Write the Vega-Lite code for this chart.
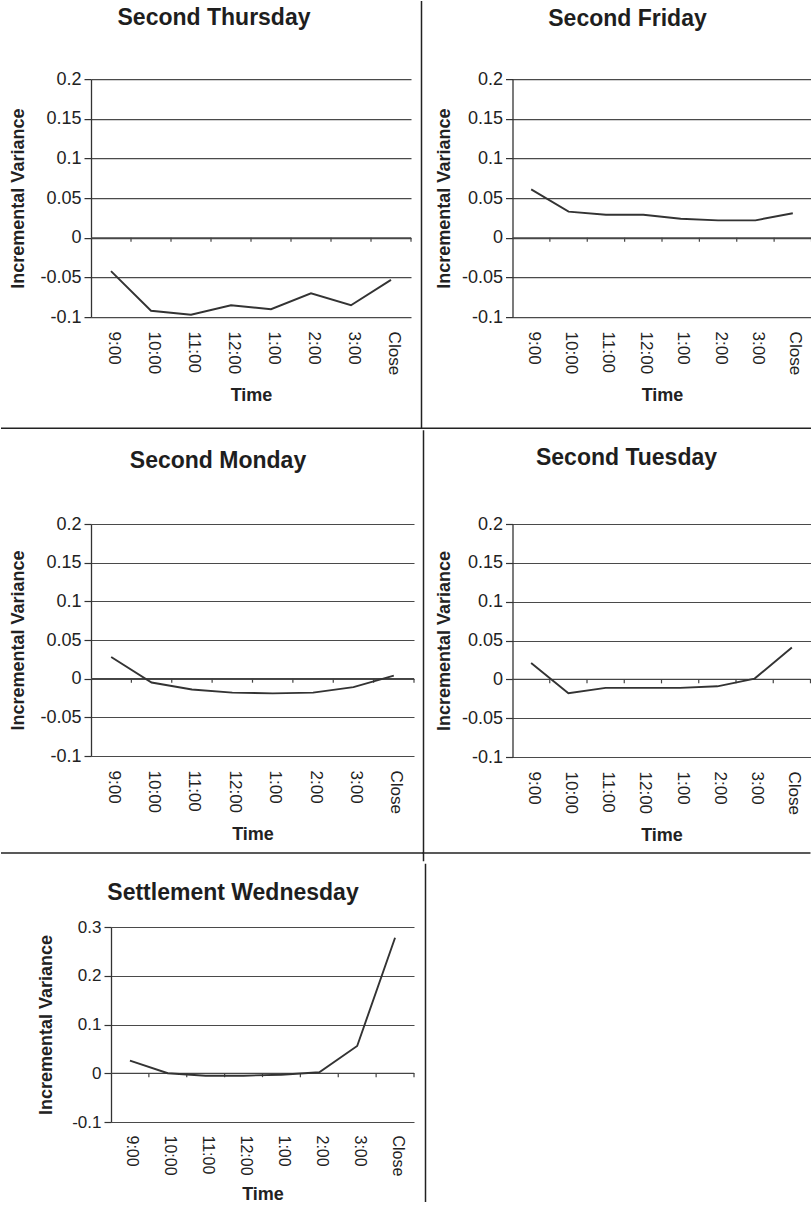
{
  "$schema": "https://vega.github.io/schema/vega-lite/v6.json",
  "padding": 0,
  "background": "white",
  "spacing": {"row": 0, "column": -26.5},
  "columns": 2,
  "center": true,
  "datasets": {
    "series": [
      {"day": "Second Thursday", "i": 0, "time": "9:00", "v": -0.042},
      {"day": "Second Thursday", "i": 1, "time": "10:00", "v": -0.092},
      {"day": "Second Thursday", "i": 2, "time": "11:00", "v": -0.097},
      {"day": "Second Thursday", "i": 3, "time": "12:00", "v": -0.085},
      {"day": "Second Thursday", "i": 4, "time": "1:00", "v": -0.090},
      {"day": "Second Thursday", "i": 5, "time": "2:00", "v": -0.070},
      {"day": "Second Thursday", "i": 6, "time": "3:00", "v": -0.085},
      {"day": "Second Thursday", "i": 7, "time": "Close", "v": -0.053},
      {"day": "Second Friday", "i": 0, "time": "9:00", "v": 0.061},
      {"day": "Second Friday", "i": 1, "time": "10:00", "v": 0.033},
      {"day": "Second Friday", "i": 2, "time": "11:00", "v": 0.029},
      {"day": "Second Friday", "i": 3, "time": "12:00", "v": 0.029},
      {"day": "Second Friday", "i": 4, "time": "1:00", "v": 0.024},
      {"day": "Second Friday", "i": 5, "time": "2:00", "v": 0.022},
      {"day": "Second Friday", "i": 6, "time": "3:00", "v": 0.022},
      {"day": "Second Friday", "i": 7, "time": "Close", "v": 0.031},
      {"day": "Second Monday", "i": 0, "time": "9:00", "v": 0.028},
      {"day": "Second Monday", "i": 1, "time": "10:00", "v": -0.005},
      {"day": "Second Monday", "i": 2, "time": "11:00", "v": -0.014},
      {"day": "Second Monday", "i": 3, "time": "12:00", "v": -0.018},
      {"day": "Second Monday", "i": 4, "time": "1:00", "v": -0.019},
      {"day": "Second Monday", "i": 5, "time": "2:00", "v": -0.018},
      {"day": "Second Monday", "i": 6, "time": "3:00", "v": -0.011},
      {"day": "Second Monday", "i": 7, "time": "Close", "v": 0.004},
      {"day": "Second Tuesday", "i": 0, "time": "9:00", "v": 0.021},
      {"day": "Second Tuesday", "i": 1, "time": "10:00", "v": -0.018},
      {"day": "Second Tuesday", "i": 2, "time": "11:00", "v": -0.011},
      {"day": "Second Tuesday", "i": 3, "time": "12:00", "v": -0.011},
      {"day": "Second Tuesday", "i": 4, "time": "1:00", "v": -0.011},
      {"day": "Second Tuesday", "i": 5, "time": "2:00", "v": -0.009},
      {"day": "Second Tuesday", "i": 6, "time": "3:00", "v": 0.001},
      {"day": "Second Tuesday", "i": 7, "time": "Close", "v": 0.041},
      {"day": "Settlement Wednesday", "i": 0, "time": "9:00", "v": 0.026},
      {"day": "Settlement Wednesday", "i": 1, "time": "10:00", "v": 0.000},
      {"day": "Settlement Wednesday", "i": 2, "time": "11:00", "v": -0.005},
      {"day": "Settlement Wednesday", "i": 3, "time": "12:00", "v": -0.005},
      {"day": "Settlement Wednesday", "i": 4, "time": "1:00", "v": -0.003},
      {"day": "Settlement Wednesday", "i": 5, "time": "2:00", "v": 0.002},
      {"day": "Settlement Wednesday", "i": 6, "time": "3:00", "v": 0.056},
      {"day": "Settlement Wednesday", "i": 7, "time": "Close", "v": 0.278}
    ],
    "ticksAt": [
      {"b": 0.5}, {"b": 1.5}, {"b": 2.5}, {"b": 3.5}, {"b": 4.5}, {"b": 5.5}, {"b": 6.5}, {"b": 7.5}
    ]
  },
  "concat": [
    {
      "width": 320, "height": 238,
      "title": {"text": "Second Thursday", "offset": -30, "dx": -37},
      "layer": [
        {"data": {"values": [{}]}, "mark": {"type": "rect", "opacity": 0},
         "encoding": {
           "x": {"datum": -2.75, "type": "quantitative", "scale": {"domain": [-0.5, 7.5], "nice": false, "zero": false},
                 "axis": {"values": [0, 1, 2, 3, 4, 5, 6, 7], "labelExpr": "['9:00','10:00','11:00','12:00','1:00','2:00','3:00','Close'][datum.value]", "labelAngle": 90, "labelAlign": "left", "labelBaseline": "middle", "labelPadding": 14, "labelFontSize": 17, "labelOffset": 2, "labelFlush": false, "labelOverlap": false, "ticks": false, "tickSize": 0, "domain": false, "grid": false, "title": "Time", "titleFontSize": 18, "titleFontWeight": "bold", "titlePadding": 12}},
           "x2": {"datum": 8.4},
           "y": {"datum": 0.29832, "type": "quantitative", "scale": {"domain": [-0.1, 0.2], "nice": false, "zero": false},
                 "axis": {"values": [-0.1, -0.05, 0, 0.05, 0.1, 0.15, 0.2], "tickCount": 7, "labelOverlap": false, "labelExpr": "'' + datum.value", "labelFontSize": 18, "labelPadding": 3, "tickSize": 7, "tickColor": "#333", "tickWidth": 1.2, "domainColor": "#333", "domainWidth": 1.3, "grid": true, "gridColor": "#4a4a4a", "gridWidth": 1.1, "title": "Incremental Variance", "titleFontSize": 18, "titleFontWeight": "bold", "titlePadding": 12}},
           "y2": {"datum": -0.23992}}},
        {"data": {"values": [{}]}, "mark": {"type": "rule", "color": "#222", "strokeWidth": 1.5},
         "encoding": {"x": {"datum": 7.7625, "type": "quantitative"}, "y": {"datum": 0.29832, "type": "quantitative"}, "y2": {"datum": -0.23992}}},
        {"data": {"values": [{}]}, "mark": {"type": "rule", "color": "#222", "strokeWidth": 1.5},
         "encoding": {"x": {"datum": -2.75, "type": "quantitative"}, "x2": {"datum": 7.775}, "y": {"datum": -0.23992, "type": "quantitative"}}},
        {"data": {"values": [{}]}, "mark": {"type": "rule", "color": "#444", "strokeWidth": 1.2},
         "encoding": {"x": {"datum": -0.5, "type": "quantitative"}, "x2": {"datum": 7.5}, "y": {"datum": 0, "type": "quantitative"}}},
        {"data": {"name": "ticksAt"}, "mark": {"type": "rule", "color": "#444", "strokeWidth": 1.2},
         "encoding": {"x": {"field": "b", "type": "quantitative"}, "y": {"datum": 0, "type": "quantitative"}, "y2": {"datum": -0.005}}},
        {"data": {"name": "series"}, "transform": [{"filter": "datum.day === 'Second Thursday'"}],
         "mark": {"type": "line", "color": "#333", "strokeWidth": 1.9},
         "encoding": {"x": {"field": "i", "type": "quantitative"}, "y": {"field": "v", "type": "quantitative"}}}
      ]
    },
    {
      "width": 299, "height": 238,
      "title": {"text": "Second Friday", "offset": -30, "dx": -34.5},
      "layer": [
        {"data": {"values": [{}]}, "mark": {"type": "rect", "opacity": 0},
         "encoding": {
           "x": {"datum": -2.9348, "type": "quantitative", "scale": {"domain": [-0.5, 7.5], "nice": false, "zero": false},
                 "axis": {"values": [0, 1, 2, 3, 4, 5, 6, 7], "labelExpr": "['9:00','10:00','11:00','12:00','1:00','2:00','3:00','Close'][datum.value]", "labelAngle": 90, "labelAlign": "left", "labelBaseline": "middle", "labelPadding": 14, "labelFontSize": 17, "labelOffset": 2, "labelFlush": false, "labelOverlap": false, "ticks": false, "tickSize": 0, "domain": false, "grid": false, "title": "Time", "titleFontSize": 18, "titleFontWeight": "bold", "titlePadding": 12}},
           "x2": {"datum": 7.5},
           "y": {"datum": 0.29832, "type": "quantitative", "scale": {"domain": [-0.1, 0.2], "nice": false, "zero": false},
                 "axis": {"values": [-0.1, -0.05, 0, 0.05, 0.1, 0.15, 0.2], "tickCount": 7, "labelOverlap": false, "labelExpr": "'' + datum.value", "labelFontSize": 18, "labelPadding": 3, "tickSize": 7, "tickColor": "#333", "tickWidth": 1.2, "domainColor": "#333", "domainWidth": 1.3, "grid": true, "gridColor": "#4a4a4a", "gridWidth": 1.1, "title": "Incremental Variance", "titleFontSize": 18, "titleFontWeight": "bold", "titlePadding": 8}},
           "y2": {"datum": -0.23992}}},
        {"data": {"values": [{}]}, "mark": {"type": "rule", "color": "#222", "strokeWidth": 1.5},
         "encoding": {"x": {"datum": -2.9348, "type": "quantitative"}, "x2": {"datum": 7.5}, "y": {"datum": -0.23992, "type": "quantitative"}}},
        {"data": {"values": [{}]}, "mark": {"type": "rule", "color": "#444", "strokeWidth": 1.2},
         "encoding": {"x": {"datum": -0.5, "type": "quantitative"}, "x2": {"datum": 7.5}, "y": {"datum": 0, "type": "quantitative"}}},
        {"data": {"name": "ticksAt"}, "mark": {"type": "rule", "color": "#444", "strokeWidth": 1.2},
         "encoding": {"x": {"field": "b", "type": "quantitative"}, "y": {"datum": 0, "type": "quantitative"}, "y2": {"datum": -0.005}}},
        {"data": {"name": "series"}, "transform": [{"filter": "datum.day === 'Second Friday'"}],
         "mark": {"type": "line", "color": "#333", "strokeWidth": 1.9},
         "encoding": {"x": {"field": "i", "type": "quantitative"}, "y": {"field": "v", "type": "quantitative"}}}
      ]
    },
    {
      "width": 323, "height": 232,
      "title": {"text": "Second Monday", "offset": -43.5, "dx": -34.5},
      "layer": [
        {"data": {"values": [{}]}, "mark": {"type": "rect", "opacity": 0},
         "encoding": {
           "x": {"datum": -2.7291, "type": "quantitative", "scale": {"domain": [-0.5, 7.5], "nice": false, "zero": false},
                 "axis": {"values": [0, 1, 2, 3, 4, 5, 6, 7], "labelExpr": "['9:00','10:00','11:00','12:00','1:00','2:00','3:00','Close'][datum.value]", "labelAngle": 90, "labelAlign": "left", "labelBaseline": "middle", "labelPadding": 14, "labelFontSize": 17, "labelOffset": 2, "labelFlush": false, "labelOverlap": false, "ticks": false, "tickSize": 0, "domain": false, "grid": false, "title": "Time", "titleFontSize": 18, "titleFontWeight": "bold", "titlePadding": 12}},
           "x2": {"datum": 8.3173},
           "y": {"datum": 0.3222, "type": "quantitative", "scale": {"domain": [-0.1, 0.2], "nice": false, "zero": false},
                 "axis": {"values": [-0.1, -0.05, 0, 0.05, 0.1, 0.15, 0.2], "tickCount": 7, "labelOverlap": false, "labelExpr": "'' + datum.value", "labelFontSize": 18, "labelPadding": 3, "tickSize": 7, "tickColor": "#333", "tickWidth": 1.2, "domainColor": "#333", "domainWidth": 1.3, "grid": true, "gridColor": "#4a4a4a", "gridWidth": 1.1, "title": "Incremental Variance", "titleFontSize": 18, "titleFontWeight": "bold", "titlePadding": 12}},
           "y2": {"datum": -0.23707}}},
        {"data": {"values": [{}]}, "mark": {"type": "rule", "color": "#222", "strokeWidth": 1.5},
         "encoding": {"x": {"datum": 7.7353, "type": "quantitative"}, "y": {"datum": 0.32123, "type": "quantitative"}, "y2": {"datum": -0.2361}}},
        {"data": {"values": [{}]}, "mark": {"type": "rule", "color": "#222", "strokeWidth": 1.5},
         "encoding": {"x": {"datum": -2.7291, "type": "quantitative"}, "x2": {"datum": 7.7477}, "y": {"datum": -0.22543, "type": "quantitative"}}},
        {"data": {"values": [{}]}, "mark": {"type": "rule", "color": "#444", "strokeWidth": 1.2},
         "encoding": {"x": {"datum": -0.5, "type": "quantitative"}, "x2": {"datum": 7.5}, "y": {"datum": 0, "type": "quantitative"}}},
        {"data": {"name": "ticksAt"}, "mark": {"type": "rule", "color": "#444", "strokeWidth": 1.2},
         "encoding": {"x": {"field": "b", "type": "quantitative"}, "y": {"datum": 0, "type": "quantitative"}, "y2": {"datum": -0.0052}}},
        {"data": {"name": "series"}, "transform": [{"filter": "datum.day === 'Second Monday'"}],
         "mark": {"type": "line", "color": "#333", "strokeWidth": 1.9},
         "encoding": {"x": {"field": "i", "type": "quantitative"}, "y": {"field": "v", "type": "quantitative"}}}
      ]
    },
    {
      "width": 298, "height": 233,
      "title": {"text": "Second Tuesday", "offset": -36, "dx": -35},
      "layer": [
        {"data": {"values": [{}]}, "mark": {"type": "rect", "opacity": 0},
         "encoding": {
           "x": {"datum": -2.94966, "type": "quantitative", "scale": {"domain": [-0.5, 7.5], "nice": false, "zero": false},
                 "axis": {"values": [0, 1, 2, 3, 4, 5, 6, 7], "labelExpr": "['9:00','10:00','11:00','12:00','1:00','2:00','3:00','Close'][datum.value]", "labelAngle": 90, "labelAlign": "left", "labelBaseline": "middle", "labelPadding": 14, "labelFontSize": 17, "labelOffset": 2, "labelFlush": false, "labelOverlap": false, "ticks": false, "tickSize": 0, "domain": false, "grid": false, "title": "Time", "titleFontSize": 18, "titleFontWeight": "bold", "titlePadding": 12}},
           "x2": {"datum": 7.5},
           "y": {"datum": 0.31588, "type": "quantitative", "scale": {"domain": [-0.1, 0.2], "nice": false, "zero": false},
                 "axis": {"values": [-0.1, -0.05, 0, 0.05, 0.1, 0.15, 0.2], "tickCount": 7, "labelOverlap": false, "labelExpr": "'' + datum.value", "labelFontSize": 18, "labelPadding": 3, "tickSize": 7, "tickColor": "#333", "tickWidth": 1.2, "domainColor": "#333", "domainWidth": 1.3, "grid": true, "gridColor": "#4a4a4a", "gridWidth": 1.1, "title": "Incremental Variance", "titleFontSize": 18, "titleFontWeight": "bold", "titlePadding": 8}},
           "y2": {"datum": -0.23519}}},
        {"data": {"values": [{}]}, "mark": {"type": "rule", "color": "#222", "strokeWidth": 1.5},
         "encoding": {"x": {"datum": -2.91611, "type": "quantitative"}, "x2": {"datum": 7.5}, "y": {"datum": -0.2236, "type": "quantitative"}}},
        {"data": {"values": [{}]}, "mark": {"type": "rule", "color": "#444", "strokeWidth": 1.2},
         "encoding": {"x": {"datum": -0.5, "type": "quantitative"}, "x2": {"datum": 7.5}, "y": {"datum": 0, "type": "quantitative"}}},
        {"data": {"name": "ticksAt"}, "mark": {"type": "rule", "color": "#444", "strokeWidth": 1.2},
         "encoding": {"x": {"field": "b", "type": "quantitative"}, "y": {"datum": 0, "type": "quantitative"}, "y2": {"datum": -0.0052}}},
        {"data": {"name": "series"}, "transform": [{"filter": "datum.day === 'Second Tuesday'"}],
         "mark": {"type": "line", "color": "#333", "strokeWidth": 1.9},
         "encoding": {"x": {"field": "i", "type": "quantitative"}, "y": {"field": "v", "type": "quantitative"}}}
      ]
    },
    {
      "width": 303, "height": 195,
      "title": {"text": "Settlement Wednesday", "offset": -42, "dx": -29.5},
      "layer": [
        {"data": {"values": [{}]}, "mark": {"type": "rect", "opacity": 0},
         "encoding": {
           "x": {"datum": -2.87624, "type": "quantitative", "scale": {"domain": [-0.5, 7.5], "nice": false, "zero": false},
                 "axis": {"values": [0, 1, 2, 3, 4, 5, 6, 7], "labelExpr": "['9:00','10:00','11:00','12:00','1:00','2:00','3:00','Close'][datum.value]", "labelAngle": 90, "labelAlign": "left", "labelBaseline": "middle", "labelPadding": 13, "labelFontSize": 16, "labelOffset": 2, "labelFlush": false, "labelOverlap": false, "ticks": false, "tickSize": 0, "domain": false, "grid": false, "title": "Time", "titleFontSize": 18, "titleFontWeight": "bold", "titlePadding": 10}},
           "x2": {"datum": 7.84323},
           "y": {"datum": 0.43128, "type": "quantitative", "scale": {"domain": [-0.1, 0.3], "nice": false, "zero": false},
                 "axis": {"values": [-0.1, 0, 0.1, 0.2, 0.3], "tickCount": 5, "labelOverlap": false, "labelExpr": "'' + datum.value", "labelFontSize": 17, "labelPadding": 3, "tickSize": 7, "tickColor": "#333", "tickWidth": 1.2, "domainColor": "#333", "domainWidth": 1.3, "grid": true, "gridColor": "#4a4a4a", "gridWidth": 1.1, "title": "Incremental Variance", "titleFontSize": 18, "titleFontWeight": "bold", "titlePadding": 16}},
           "y2": {"datum": -0.27231}}},
        {"data": {"values": [{}]}, "mark": {"type": "rule", "color": "#222", "strokeWidth": 1.5},
         "encoding": {"x": {"datum": 7.80363, "type": "quantitative"}, "y": {"datum": 0.42974, "type": "quantitative"}, "y2": {"datum": -0.2641}}},
        {"data": {"values": [{}]}, "mark": {"type": "rule", "color": "#444", "strokeWidth": 1.2},
         "encoding": {"x": {"datum": -0.5, "type": "quantitative"}, "x2": {"datum": 7.5}, "y": {"datum": 0, "type": "quantitative"}}},
        {"data": {"name": "ticksAt"}, "mark": {"type": "rule", "color": "#444", "strokeWidth": 1.2},
         "encoding": {"x": {"field": "b", "type": "quantitative"}, "y": {"datum": 0, "type": "quantitative"}, "y2": {"datum": -0.008}}},
        {"data": {"name": "series"}, "transform": [{"filter": "datum.day === 'Settlement Wednesday'"}],
         "mark": {"type": "line", "color": "#333", "strokeWidth": 1.9},
         "encoding": {"x": {"field": "i", "type": "quantitative"}, "y": {"field": "v", "type": "quantitative"}}}
      ]
    }
  ],
  "config": {
    "font": "Liberation Sans",
    "view": {"stroke": null},
    "title": {"fontSize": 23, "fontWeight": "bold", "color": "#1e1e1e", "anchor": "middle", "frame": "group"},
    "axis": {"labelColor": "#222", "titleColor": "#222", "labelFont": "Liberation Sans", "titleFont": "Liberation Sans"}
  }
}
